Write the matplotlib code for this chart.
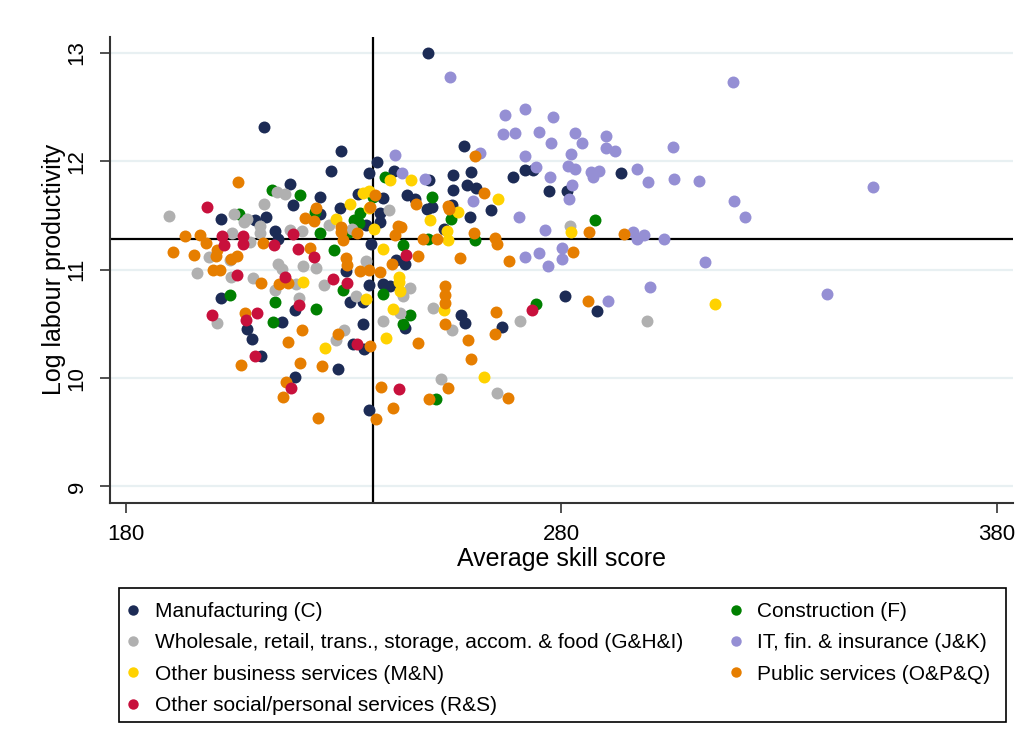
import matplotlib.pyplot as plt
from matplotlib.lines import Line2D
from matplotlib.patches import Rectangle

plt.rcParams['font.family'] = ['Liberation Sans', 'DejaVu Sans']

# average skill score (x) and log labour productivity (y) by sector
manuf_x = [249.4, 211.7, 229.3, 227.1, 237.6, 235.8, 241.5, 217.6, 224.6, 218.3,
           233.3, 238.9, 244.6, 229.2, 201.9, 209.7, 212.2, 224.5, 238.4, 238.4,
           235.2, 214.1, 215.0, 236.3, 241.9, 244.1, 257.6, 255.1, 259.3, 255.1,
           258.3, 260.4, 249.6, 246.4, 249.0, 250.3, 254.8, 263.8, 259.1, 253.1,
           268.9, 271.6, 273.4, 277.1, 281.3, 293.6, 201.8, 207.8, 208.9, 211.0,
           218.9, 215.7, 218.9, 228.7, 230.4, 235.9, 231.5, 234.3, 234.3, 232.2,
           234.6, 235.7, 238.9, 240.6, 244.1, 256.9, 257.9, 266.4, 280.9, 288.1]
manuf_y = [13.00, 12.32, 12.10, 11.91, 11.99, 11.89, 11.91, 11.79, 11.67, 11.60,
           11.70, 11.66, 11.69, 11.57, 11.47, 11.46, 11.49, 11.51, 11.52, 11.44,
           11.41, 11.36, 11.28, 11.24, 11.09, 11.05, 12.14, 11.87, 11.90, 11.74,
           11.78, 11.75, 11.83, 11.65, 11.56, 11.58, 11.60, 11.55, 11.49, 11.38,
           11.86, 11.92, 11.92, 11.73, 11.73, 11.89, 10.74, 10.45, 10.36, 10.20,
           10.63, 10.52, 10.01, 10.08, 10.99, 10.86, 10.70, 10.70, 10.50, 10.31,
           10.27, 9.71, 10.87, 10.85, 10.46, 10.58, 10.51, 10.47, 10.76, 10.62]

constr_x = [239.4, 213.6, 219.9, 223.3, 224.6, 227.7, 232.3, 233.8, 233.4, 231.3,
            236.8, 243.7, 205.9, 203.9, 214.1, 223.6, 229.9, 213.8, 238.9, 243.6,
            250.2, 254.7, 260.1, 249.4, 287.8, 245.3, 274.1, 251.1]
constr_y = [11.86, 11.74, 11.69, 11.53, 11.34, 11.18, 11.46, 11.52, 11.43, 11.35,
            11.67, 11.23, 11.51, 10.77, 10.70, 10.64, 10.81, 10.52, 10.78, 10.50,
            11.67, 11.47, 11.27, 11.28, 11.46, 10.58, 10.68, 9.81]

whole_x = [189.8, 211.7, 214.6, 216.6, 207.0, 207.7, 204.7, 210.7, 204.4, 208.5,
           210.7, 217.6, 220.5, 226.6, 240.4, 199.1, 203.9, 215.0, 215.7, 220.6,
           223.6, 235.2, 231.9, 196.2, 204.0, 209.1, 214.3, 219.1, 225.5, 219.8,
           232.9, 200.8, 228.2, 230.1, 238.9, 243.0, 243.5, 245.1, 250.5, 254.8,
           270.4, 252.3, 265.2, 299.6, 282.0]
whole_y = [11.50, 11.61, 11.72, 11.70, 11.44, 11.47, 11.51, 11.40, 11.34, 11.26,
           11.34, 11.37, 11.36, 11.41, 11.55, 11.12, 11.09, 11.05, 11.01, 11.03,
           11.02, 11.08, 11.38, 10.97, 10.93, 10.92, 10.81, 10.87, 10.86, 10.74,
           10.76, 10.51, 10.35, 10.44, 10.53, 10.60, 10.76, 10.83, 10.65, 10.44,
           10.53, 9.99, 9.86, 10.53, 11.40]

it_x = [254.4, 319.4, 267.0, 271.6, 278.1, 266.6, 269.3, 274.9, 277.7, 283.0,
        284.8, 290.2, 290.2, 292.2, 305.6, 261.2, 271.7, 282.2, 274.1, 281.5,
        283.0, 277.3, 286.7, 288.6, 287.3, 297.3, 299.9, 305.8, 311.6, 282.5,
        281.7, 259.6, 248.7, 243.4, 241.8, 270.3, 276.2, 296.4, 297.4, 299.0,
        303.5, 271.6, 274.9, 280.2, 280.1, 277.0, 313.0, 351.5, 319.6, 322.2,
        340.9, 300.3, 290.6]
it_y = [12.78, 12.73, 12.43, 12.48, 12.41, 12.25, 12.26, 12.27, 12.17, 12.26,
        12.17, 12.23, 12.12, 12.10, 12.13, 12.08, 12.05, 12.07, 11.95, 11.96,
        11.93, 11.86, 11.90, 11.91, 11.86, 11.93, 11.81, 11.84, 11.82, 11.78,
        11.65, 11.63, 11.84, 11.89, 12.06, 11.49, 11.37, 11.35, 11.28, 11.32,
        11.28, 11.12, 11.15, 11.20, 11.10, 11.03, 11.07, 11.76, 11.63, 11.49,
        10.78, 10.84, 10.71]

bus_x = [240.7, 245.5, 235.7, 234.5, 231.5, 235.8, 228.2, 236.9, 238.9, 249.9,
         256.3, 265.4, 253.7, 254.0, 282.1, 242.7, 242.7, 242.9, 235.2, 241.2,
         239.8, 220.7, 225.6, 253.1, 262.2, 315.3]
bus_y = [11.83, 11.83, 11.73, 11.71, 11.61, 11.57, 11.47, 11.38, 11.19, 11.46,
         11.53, 11.65, 11.36, 11.27, 11.35, 10.93, 10.89, 10.80, 10.73, 10.64,
         10.37, 10.89, 10.28, 10.63, 10.01, 10.68]

pub_x = [205.7, 223.7, 221.2, 223.2, 229.3, 229.3, 229.9, 233.0, 230.6, 230.7,
         237.2, 236.0, 242.5, 243.2, 241.8, 241.0, 222.2, 211.5, 197.0, 198.4,
         193.5, 190.7, 195.5, 200.9, 200.6, 204.0, 205.5, 200.0, 201.6, 211.1,
         215.1, 217.1, 233.7, 235.9, 238.3, 207.2, 220.4, 217.1, 228.6, 206.5,
         220.0, 225.1, 216.7, 216.0, 224.1, 236.0, 238.5, 241.4, 237.4, 260.2,
         246.6, 254.0, 254.2, 262.2, 248.2, 251.5, 259.8, 264.7, 265.2, 247.1,
         256.7, 267.9, 282.6, 286.3, 294.3, 253.3, 253.3, 253.3, 253.3, 247.1,
         264.9, 264.7, 258.6, 259.3, 286.2, 254.0, 249.6, 267.7]
pub_y = [11.81, 11.57, 11.48, 11.45, 11.39, 11.35, 11.27, 11.34, 11.11, 11.04,
         11.69, 11.58, 11.40, 11.39, 11.32, 11.05, 11.20, 11.25, 11.32, 11.25,
         11.31, 11.16, 11.14, 11.18, 11.13, 11.10, 11.13, 11.00, 11.00, 10.88,
         10.87, 10.88, 10.99, 11.00, 10.98, 10.60, 10.44, 10.33, 10.41, 10.12,
         10.14, 10.11, 9.96, 9.83, 9.63, 10.30, 9.92, 9.72, 9.62, 12.05,
         11.61, 11.59, 11.56, 11.71, 11.28, 11.28, 11.34, 11.29, 11.24, 11.13,
         11.11, 11.08, 11.16, 11.35, 11.33, 10.85, 10.77, 10.69, 10.50, 10.32,
         10.61, 10.41, 10.35, 10.18, 10.71, 9.91, 9.81, 9.82]

soc_x = [198.6, 202.0, 202.5, 206.8, 206.9, 214.0, 218.4, 219.4, 223.1, 244.4,
         227.6, 230.8, 216.6, 205.5, 219.6, 199.8, 207.5, 210.1, 209.5, 233.1,
         217.8, 242.6, 273.3]
soc_y = [11.58, 11.31, 11.23, 11.31, 11.24, 11.23, 11.33, 11.19, 11.12, 11.14,
         10.91, 10.88, 10.93, 10.95, 10.67, 10.58, 10.54, 10.60, 10.20, 10.31,
         9.91, 9.90, 10.63]

# averages used for the cross-hair lines
mean_skill = 236.6
mean_prod = 11.285

series = [
    ("Manufacturing (C)", manuf_x, manuf_y, "#1c2b55"),
    ("Construction (F)", constr_x, constr_y, "#008000"),
    ("Wholesale, retail, trans., storage, accom. & food (G&H&I)", whole_x, whole_y, "#b0b0b0"),
    ("IT, fin. & insurance (J&K)", it_x, it_y, "#958fd4"),
    ("Other business services (M&N)", bus_x, bus_y, "#ffd200"),
    ("Public services (O&P&Q)", pub_x, pub_y, "#e67e00"),
    ("Other social/personal services (R&S)", soc_x, soc_y, "#c8103c"),
]

W, H = 1021, 751
fig = plt.figure(figsize=(W / 100, H / 100), dpi=100)
ax = fig.add_axes([0.1077, 0.3306, 0.8845, 0.6205])

for label, xs, ys, col in series:
    ax.scatter(xs, ys, s=74, color=col, linewidths=0, zorder=3)

ax.axvline(mean_skill, color="black", lw=1.6, zorder=2)
ax.axhline(mean_prod, color="black", lw=1.6, zorder=2)

ax.set_xlim(176.3, 383.7)
ax.set_ylim(8.85, 13.15)
ax.set_xticks([180, 280, 380])
ax.set_yticks([9, 10, 11, 12, 13])
ax.grid(axis="y", color="#e8f0f2", lw=1.6, zorder=0)
ax.set_axisbelow(True)

for side in ["top", "right"]:
    ax.spines[side].set_visible(False)
for side in ["left", "bottom"]:
    ax.spines[side].set_color("#333333")
    ax.spines[side].set_linewidth(1.5)

ax.tick_params(axis="x", length=7, width=1.2, color="#333333", labelsize=16, pad=8)
ax.tick_params(axis="y", length=7, width=1.2, color="#333333", labelsize=16, pad=9,
               labelrotation=90)
for t in ax.get_yticklabels():
    t.set_va("center")

ax.set_xlabel("Average skill score", fontsize=18, labelpad=2)
ax.set_ylabel("Log labour productivity", fontsize=18)
ax.yaxis.label.set_verticalalignment("center")
ax.yaxis.set_label_coords(-0.062, 0.5)

# legend box drawn separately so the padding can be set freely
fig.patches.append(Rectangle((119 / W, 1 - 722 / H), 887 / W, 134 / H,
                             transform=fig.transFigure, fill=False,
                             edgecolor="black", lw=1.2))

# legend filled row by row: C, F / G&H&I, J&K / M&N, O&P&Q / R&S
order = [0, 2, 4, 6, 1, 3, 5]
handles = [Line2D([], [], ls="none", marker="o", ms=7.5, mew=0, color=series[i][3]) for i in order]
labels = [series[i][0] for i in order]
fig.legend(handles, labels, loc="center left", ncol=2, mode="expand",
           bbox_to_anchor=(117 / W, 1 - 658.5 / H, 884 / W, 0),
           borderaxespad=0, fontsize=15, frameon=False, borderpad=0.5,
           labelspacing=0.586, handlelength=0.55, handletextpad=0.75)

fig.savefig("out.png", dpi=100)
